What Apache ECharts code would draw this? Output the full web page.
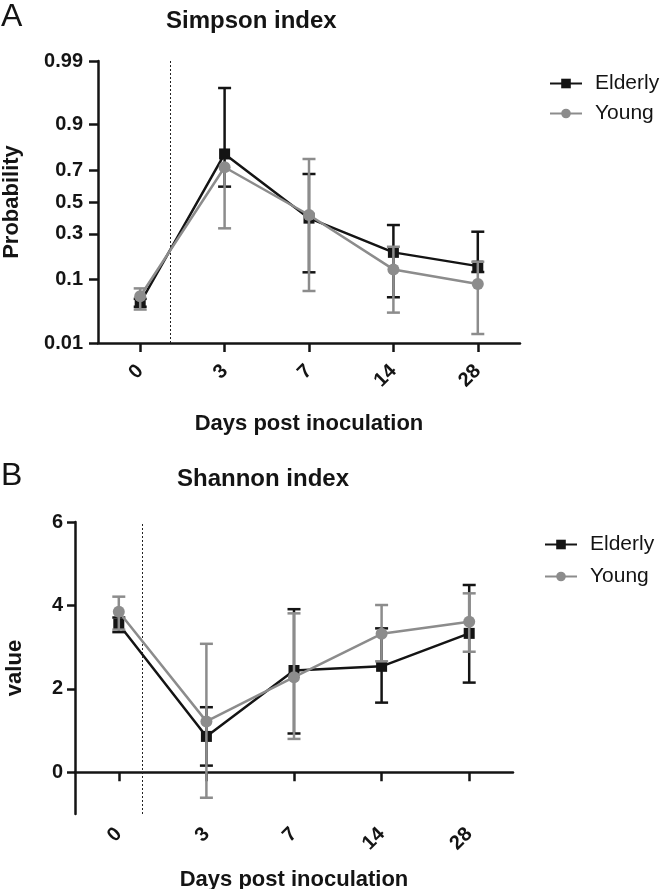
<!DOCTYPE html>
<html>
<head>
<meta charset="utf-8">
<script src="https://cdn.jsdelivr.net/npm/echarts@6/dist/echarts.min.js"></script>
<style>
html,body{margin:0;padding:0;background:#fff;}
#chart{width:666px;height:889px;}
</style>
</head>
<body>
<div id="chart"></div>
<script>
// ---------- data ----------
const days = ['0', '3', '7', '14', '28'];

// Panel A: Simpson index (probability scale)
const simpsonTickValues = [0.01, 0.1, 0.3, 0.5, 0.7, 0.9, 0.99];
const simpsonTickLabels = ['0.01', '0.1', '0.3', '0.5', '0.7', '0.9', '0.99'];
const simpsonElderly     = [0.048, 0.786, 0.395, 0.203, 0.145];
const simpsonElderlyLow  = [0.042, 0.600, 0.123, 0.058, 0.124];
const simpsonElderlyHigh = [0.055, 0.970, 0.678, 0.352, 0.312];
const simpsonYoung       = [0.060, 0.717, 0.415, 0.133, 0.088];
const simpsonYoungLow    = [0.038, 0.332, 0.071, 0.034, 0.0147];
const simpsonYoungHigh   = [0.077, null, 0.761, 0.230, 0.162];

// Panel B: Shannon index
const shannonTickValues = [0, 2, 4, 6];
const shannonElderly     = [3.55, 0.86, 2.44, 2.54, 3.33];
const shannonElderlyLow  = [3.36, 0.16, 0.93, 1.67, 2.15];
const shannonElderlyHigh = [3.71, 1.56, 3.91, 3.45, 4.49];
const shannonYoung       = [3.85, 1.22, 2.28, 3.32, 3.61];
const shannonYoungLow    = [3.42, -0.61, 0.80, 2.66, 2.89];
const shannonYoungHigh   = [4.21, 3.08, 3.81, 4.01, 4.29];

// inoculation marker (in category-index units)
const inoculationA = 0.365;
const inoculationB = 0.27;

// ---------- probit transform (probability axis) ----------
function probit(p) {
  const a = [-39.69683028665376, 220.9460984245205, -275.9285104469687, 138.3577518672690, -30.66479806614716, 2.506628277459239];
  const b = [-54.47609879822406, 161.5858368580409, -155.6989798598866, 66.80131188771972, -13.28068155288572];
  const c = [-0.007784894002430293, -0.3223964580411365, -2.400758277161838, -2.549732539343734, 4.374664141464968, 2.938163982698783];
  const d = [0.007784695709041462, 0.3224671290700398, 2.445134137142996, 3.754408661907416];
  const pl = 0.02425, ph = 1 - pl;
  let q, r;
  if (p < pl) {
    q = Math.sqrt(-2 * Math.log(p));
    return (((((c[0]*q+c[1])*q+c[2])*q+c[3])*q+c[4])*q+c[5]) / ((((d[0]*q+d[1])*q+d[2])*q+d[3])*q+1);
  } else if (p <= ph) {
    q = p - 0.5; r = q * q;
    return (((((a[0]*r+a[1])*r+a[2])*r+a[3])*r+a[4])*r+a[5])*q / (((((b[0]*r+b[1])*r+b[2])*r+b[3])*r+b[4])*r+1);
  } else {
    q = Math.sqrt(-2 * Math.log(1 - p));
    return -(((((c[0]*q+c[1])*q+c[2])*q+c[3])*q+c[4])*q+c[5]) / ((((d[0]*q+d[1])*q+d[2])*q+d[3])*q+1);
  }
}
const tr = v => (v == null ? null : probit(v));
const id = v => v;

// ---------- styles ----------
const BLACK = '#141414';
const GRAY = '#8c8c8c';
const FONT = '"Liberation Sans", Arial, Helvetica, sans-serif';

function pts(vals, f) { return vals.map((v, i) => [i, f(v)]); }
function errData(mean, lo, hi, f) {
  return mean.map((m, i) => [i, f(m), lo[i] == null ? NaN : f(lo[i]), hi[i] == null ? NaN : f(hi[i])]);
}
function errorSeries(name, data, color, gi, z) {
  return {
    type: 'custom', name: name + ' error', xAxisIndex: gi, yAxisIndex: gi, z: z, silent: true,
    itemStyle: { color: color },
    data: data,
    renderItem: function (params, api) {
      const x = api.value(0), m = api.value(1), lo = api.value(2), hi = api.value(3);
      const cap = 6.5;
      const children = [];
      const pm = api.coord([x, m]);
      [lo, hi].forEach(function (v) {
        if (v == null || isNaN(v)) return;
        const p = api.coord([x, v]);
        children.push({ type: 'line', shape: { x1: pm[0], y1: pm[1], x2: p[0], y2: p[1] }, style: { stroke: color, lineWidth: 2.5 } });
        children.push({ type: 'line', shape: { x1: p[0] - cap, y1: p[1], x2: p[0] + cap, y2: p[1] }, style: { stroke: color, lineWidth: 2.5 } });
      });
      return { type: 'group', children: children };
    }
  };
}
function lineSeries(name, data, color, symbol, gi, z, markX) {
  const s = {
    type: 'line', name: name, xAxisIndex: gi, yAxisIndex: gi, z: z,
    data: data, symbol: symbol, symbolSize: symbol === 'rect' ? 11 : 12,
    lineStyle: { color: color, width: 2.5 }, itemStyle: { color: color },
    animation: false
  };
  if (markX != null) {
    s.markLine = {
      silent: true, symbol: 'none', label: { show: false },
      lineStyle: { color: '#222', type: [2, 2], width: 1 },
      data: [{ xAxis: markX }]
    };
  }
  return s;
}

const axisLineStyle = { color: BLACK, width: 2.5 };
const tickLabelStyle = { color: BLACK, fontSize: 20, fontWeight: 'bold', fontFamily: FONT };
const nameStyle = { color: BLACK, fontSize: 22, fontWeight: 'bold', fontFamily: FONT };

function xAxisCfg(gi, onZero, labelMargin) {
  return {
    type: 'value', gridIndex: gi, min: -0.5, max: 4.5,
    splitLine: { show: false },
    axisLine: { show: true, onZero: onZero, lineStyle: axisLineStyle },
    axisTick: { show: true, length: 9, lineStyle: { color: BLACK, width: 2.5 }, customValues: days.map((d, i) => i) },
    axisLabel: {
      rotate: 45, margin: labelMargin, ...tickLabelStyle,
      customValues: days.map((d, i) => i),
      formatter: v => days[Math.round(v)]
    },
    name: 'Days post inoculation', nameLocation: 'middle', nameGap: 0, nameTextStyle: nameStyle
  };
}

const legendText = { fontSize: 21, color: BLACK, fontFamily: FONT, padding: [0, 0, 0, 8] };

const option = {
  backgroundColor: '#fff',
  animation: false,
  title: [
    { text: 'A', left: -4, top: -4, textStyle: { fontSize: 32, fontWeight: 'normal', color: BLACK, fontFamily: FONT } },
    { text: 'Simpson index', left: 161, top: 4, textStyle: { fontSize: 24, fontWeight: 'bold', color: BLACK, fontFamily: FONT } },
    { text: 'B', left: -4, top: 455, textStyle: { fontSize: 32, fontWeight: 'normal', color: BLACK, fontFamily: FONT } },
    { text: 'Shannon index', left: 172, top: 462, textStyle: { fontSize: 24, fontWeight: 'bold', color: BLACK, fontFamily: FONT } }
  ],
  legend: [
    { data: ['Elderly', 'Young'], orient: 'vertical', left: 544, top: 68, itemWidth: 32, itemHeight: 12, itemGap: 9,
      textStyle: legendText },
    { data: ['Elderly', 'Young'], orient: 'vertical', left: 539, top: 529, itemWidth: 32, itemHeight: 12, itemGap: 11,
      textStyle: legendText }
  ],
  grid: [
    { left: 98, top: 61, width: 422, height: 282, containLabel: false, outerBoundsMode: 'none' },
    { left: 75, top: 522, width: 438, height: 292, containLabel: false, outerBoundsMode: 'none' }
  ],
  xAxis: [
    Object.assign(xAxisCfg(0, false, 25), { nameGap: 70 }),
    Object.assign(xAxisCfg(1, true, 17), { nameGap: 55 })
  ],
  yAxis: [
    {
      type: 'value', gridIndex: 0, min: probit(0.01), max: probit(0.99),
      splitLine: { show: false },
      axisLine: { show: true, onZero: false, lineStyle: axisLineStyle },
      axisTick: { show: true, length: 9, lineStyle: { color: BLACK, width: 2.5 }, customValues: simpsonTickValues.map(probit) },
      axisLabel: {
        margin: 15, ...tickLabelStyle,
        customValues: simpsonTickValues.map(probit),
        formatter: function (v) {
          for (let i = 0; i < simpsonTickValues.length; i++) {
            if (Math.abs(probit(simpsonTickValues[i]) - v) < 1e-6) return simpsonTickLabels[i];
          }
          return '';
        }
      },
      name: 'Probability', nameLocation: 'middle', nameGap: 75, nameTextStyle: nameStyle
    },
    {
      type: 'value', gridIndex: 1, min: -1, max: 6,
      splitLine: { show: false },
      axisLine: { show: true, onZero: false, lineStyle: axisLineStyle },
      axisTick: { show: true, length: 8, lineStyle: { color: BLACK, width: 2.5 }, customValues: shannonTickValues },
      axisLabel: { margin: 12, ...tickLabelStyle, customValues: shannonTickValues, formatter: v => String(v) },
      name: 'value', nameLocation: 'middle', nameGap: 49, nameTextStyle: nameStyle
    }
  ],
  series: [
    errorSeries('Elderly', errData(simpsonElderly, simpsonElderlyLow, simpsonElderlyHigh, tr), BLACK, 0, 2),
    lineSeries('Elderly', pts(simpsonElderly, tr), BLACK, 'rect', 0, 3, inoculationA),
    errorSeries('Young', errData(simpsonYoung, simpsonYoungLow, simpsonYoungHigh, tr), GRAY, 0, 4),
    lineSeries('Young', pts(simpsonYoung, tr), GRAY, 'circle', 0, 5, null),

    errorSeries('Elderly', errData(shannonElderly, shannonElderlyLow, shannonElderlyHigh, id), BLACK, 1, 2),
    lineSeries('Elderly', pts(shannonElderly, id), BLACK, 'rect', 1, 3, inoculationB),
    errorSeries('Young', errData(shannonYoung, shannonYoungLow, shannonYoungHigh, id), GRAY, 1, 4),
    lineSeries('Young', pts(shannonYoung, id), GRAY, 'circle', 1, 5, null)
  ]
};

const chart = echarts.init(document.getElementById('chart'), null, { renderer: 'canvas' });
chart.setOption(option);
</script>
</body>
</html>
